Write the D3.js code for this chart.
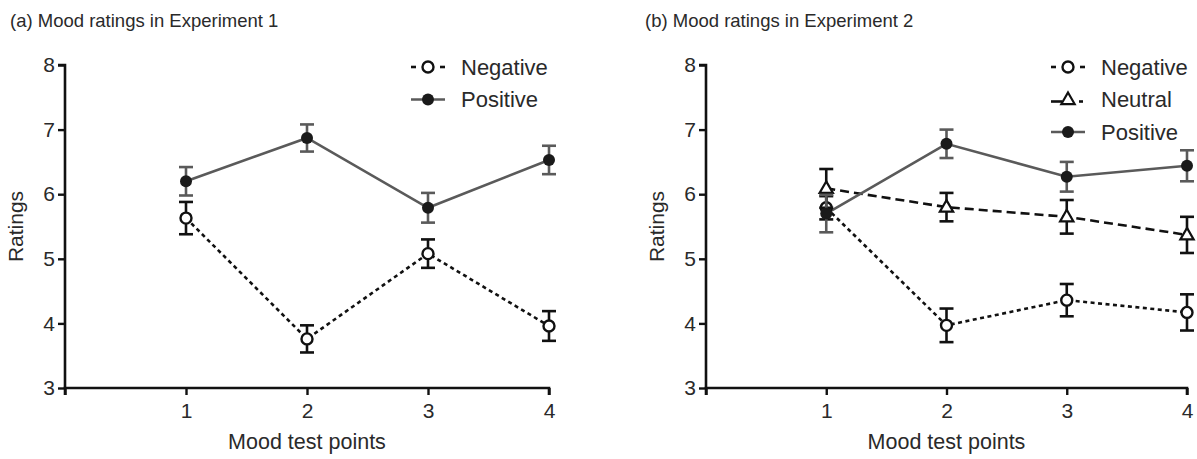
<!DOCTYPE html>
<html>
<head>
<meta charset="utf-8">
<script src="https://cdn.jsdelivr.net/npm/d3@7"></script>
<style>
  html, body { margin: 0; padding: 0; background: #fff; }
  svg { display: block; font-family: "Liberation Sans", Arial, sans-serif; }
</style>
</head>
<body>
<svg id="chart" width="1197" height="459"></svg>
<script>
// Mood test points (x positions) and y-axis ticks
const testPoints = [1, 2, 3, 4];
const yTicks = [3, 4, 5, 6, 7, 8];

// Experiment 1: means and standard errors
const exp1NegativeMean = [5.63, 3.76, 5.08, 3.96];
const exp1NegativeSE   = [0.25, 0.21, 0.22, 0.23];
const exp1PositiveMean = [6.20, 6.87, 5.79, 6.53];
const exp1PositiveSE   = [0.22, 0.21, 0.23, 0.22];

// Experiment 2: means and standard errors
const exp2NegativeMean = [5.79, 3.97, 4.36, 4.17];
const exp2NegativeSE   = [0.18, 0.26, 0.25, 0.28];
const exp2NeutralMean  = [6.09, 5.80, 5.65, 5.37];
const exp2NeutralSE    = [0.30, 0.22, 0.26, 0.28];
const exp2PositiveMean = [5.70, 6.78, 6.27, 6.44];
const exp2PositiveSE   = [0.29, 0.22, 0.23, 0.24];

const svg = d3.select("#chart");
const textColor = "#2a2a2a";
const fontFamily = "Liberation Sans, Arial, sans-serif";

const styles = {
  Negative: { line: "#111", err: "#111", dash: "4,3.5", marker: "openCircle" },
  Neutral:  { line: "#111", err: "#111", dash: "9,5",   marker: "triangle" },
  Positive: { line: "#5a5a5a", err: "#5a5a5a", dash: null, marker: "dot" }
};

function drawMarker(g, type, cx, cy) {
  if (type === "openCircle") {
    g.append("circle").attr("cx", cx).attr("cy", cy).attr("r", 5.5)
      .attr("fill", "#fff").attr("stroke", "#111").attr("stroke-width", 2.4);
  } else if (type === "dot") {
    g.append("circle").attr("cx", cx).attr("cy", cy).attr("r", 6)
      .attr("fill", "#1a1a1a");
  } else if (type === "triangle") {
    const s = 7;
    g.append("path")
      .attr("d", `M${cx},${cy - s} L${cx + s * 0.95},${cy + s * 0.65} L${cx - s * 0.95},${cy + s * 0.65} Z`)
      .attr("fill", "#fff").attr("stroke", "#111").attr("stroke-width", 2.2)
      .attr("stroke-linejoin", "miter");
  }
}

function panel(opts) {
  const { x0, x1, title, titleX, series, legendX, legendY } = opts;
  const x = d3.scaleLinear().domain([0, 4]).range([x0, x1]);
  const y = d3.scaleLinear().domain([3, 8]).range([388, 65]);
  const g = svg.append("g");

  // Title
  svg.append("text").attr("x", titleX).attr("y", 27)
    .attr("font-size", 18.5).attr("fill", textColor).text(title);

  // Axes
  const yAxis = g.append("g").attr("transform", `translate(${x0},0)`)
    .call(d3.axisLeft(y).tickValues(yTicks).tickSize(7).tickPadding(3).tickFormat(d3.format("d")));
  const xAxis = g.append("g").attr("transform", `translate(0,${y(3)})`)
    .call(d3.axisBottom(x).tickValues([0].concat(testPoints)).tickSize(7).tickPadding(8)
      .tickFormat(d => d === 0 ? "" : d));
  [yAxis, xAxis].forEach(a => {
    a.select(".domain").attr("stroke", "#111").attr("stroke-width", 2.6);
    a.selectAll(".tick line").attr("stroke", "#111").attr("stroke-width", 2.4);
    a.selectAll(".tick text").attr("font-size", 21).attr("fill", textColor)
      .attr("font-family", fontFamily);
  });
  yAxis.select(".domain").attr("d", `M-7,${y(8)}H0V${y(3)}`);
  xAxis.select(".domain").attr("d", `M${x0},7V0H${x1}V7`);

  // Axis titles
  svg.append("text").attr("transform", `translate(${x0 - 42},${y(5.5)}) rotate(-90)`)
    .attr("text-anchor", "middle").attr("font-size", 21).attr("fill", textColor).text("Ratings");
  svg.append("text").attr("x", x(2)).attr("y", 449)
    .attr("text-anchor", "middle").attr("font-size", 21.5).attr("fill", textColor).text("Mood test points");

  const line = d3.line().x(d => x(d.t)).y(d => y(d.m));

  // Series: lines first, then error bars and markers
  series.forEach(s => {
    const st = styles[s.name];
    const data = testPoints.map((t, i) => ({ t, m: s.mean[i], e: s.se[i] }));
    g.append("path").datum(data).attr("d", line).attr("fill", "none")
      .attr("stroke", st.line).attr("stroke-width", 2.6)
      .attr("stroke-dasharray", st.dash);
  });
  series.forEach(s => {
    const st = styles[s.name];
    const data = testPoints.map((t, i) => ({ t, m: s.mean[i], e: s.se[i] }));
    const eg = g.append("g").attr("stroke", st.err).attr("stroke-width", 2.6).attr("fill", "none");
    data.forEach(d => {
      const cx = x(d.t), top = y(d.m + d.e), bot = y(d.m - d.e);
      eg.append("line").attr("x1", cx).attr("x2", cx).attr("y1", top).attr("y2", bot);
      eg.append("line").attr("x1", cx - 7).attr("x2", cx + 7).attr("y1", top).attr("y2", top);
      eg.append("line").attr("x1", cx - 7).attr("x2", cx + 7).attr("y1", bot).attr("y2", bot);
    });
    data.forEach(d => drawMarker(g, st.marker, x(d.t), y(d.m)));
  });

  // Legend
  series.forEach((s, i) => {
    const st = styles[s.name];
    const ly = legendY + i * 32.5;
    const lg = svg.append("g");
    if (s.name === "Negative") {
      lg.append("line").attr("x1", legendX - 17).attr("x2", legendX - 12).attr("y1", ly).attr("y2", ly)
        .attr("stroke", "#111").attr("stroke-width", 2.6);
      lg.append("line").attr("x1", legendX + 12).attr("x2", legendX + 17).attr("y1", ly).attr("y2", ly)
        .attr("stroke", "#111").attr("stroke-width", 2.6);
    } else if (s.name === "Neutral") {
      lg.append("line").attr("x1", legendX - 17).attr("x2", legendX - 6).attr("y1", ly + 2).attr("y2", ly + 2)
        .attr("stroke", "#111").attr("stroke-width", 2.6);
      lg.append("line").attr("x1", legendX + 11).attr("x2", legendX + 15).attr("y1", ly + 2).attr("y2", ly + 2)
        .attr("stroke", "#111").attr("stroke-width", 2.6);
    } else {
      lg.append("line").attr("x1", legendX - 17).attr("x2", legendX + 17).attr("y1", ly).attr("y2", ly)
        .attr("stroke", st.line).attr("stroke-width", 2.6);
    }
    drawMarker(lg, st.marker, legendX, ly);
    lg.append("text").attr("x", legendX + 33).attr("y", ly + 7.5)
      .attr("font-size", 22).attr("fill", textColor).text(s.name);
  });
}

panel({
  x0: 65, x1: 549, title: "(a) Mood ratings in Experiment 1", titleX: 10,
  legendX: 428, legendY: 67,
  series: [
    { name: "Negative", mean: exp1NegativeMean, se: exp1NegativeSE },
    { name: "Positive", mean: exp1PositiveMean, se: exp1PositiveSE }
  ]
});

panel({
  x0: 706, x1: 1187, title: "(b) Mood ratings in Experiment 2", titleX: 645,
  legendX: 1068, legendY: 67,
  series: [
    { name: "Negative", mean: exp2NegativeMean, se: exp2NegativeSE },
    { name: "Neutral",  mean: exp2NeutralMean,  se: exp2NeutralSE },
    { name: "Positive", mean: exp2PositiveMean, se: exp2PositiveSE }
  ]
});
</script>
</body>
</html>
